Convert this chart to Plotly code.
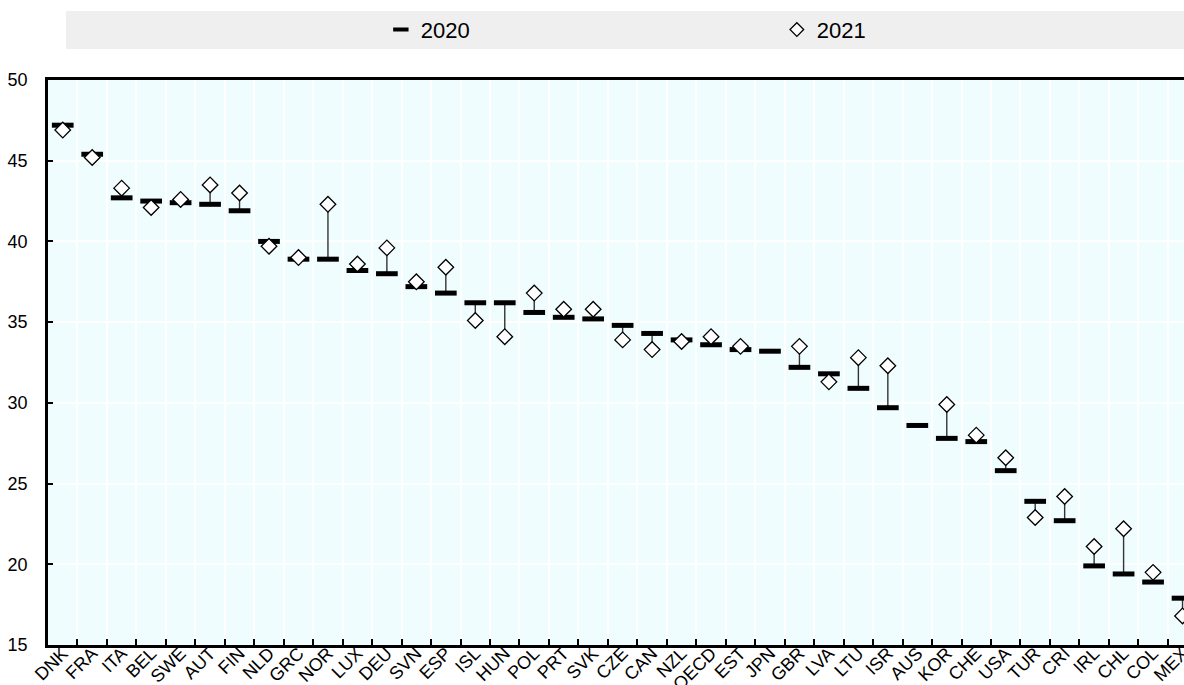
import plotly.graph_objects as go

countries = ["DNK", "FRA", "ITA", "BEL", "SWE", "AUT", "FIN", "NLD", "GRC", "NOR",
             "LUX", "DEU", "SVN", "ESP", "ISL", "HUN", "POL", "PRT", "SVK", "CZE",
             "CAN", "NZL", "OECD", "EST", "JPN", "GBR", "LVA", "LTU", "ISR", "AUS",
             "KOR", "CHE", "USA", "TUR", "CRI", "IRL", "CHL", "COL", "MEX"]

v2020 = [47.2, 45.4, 42.7, 42.5, 42.4, 42.3, 41.9, 40.0, 38.9, 38.9,
         38.2, 38.0, 37.2, 36.8, 36.2, 36.2, 35.6, 35.3, 35.2, 34.8,
         34.3, 33.9, 33.6, 33.3, 33.2, 32.2, 31.8, 30.9, 29.7, 28.6,
         27.8, 27.6, 25.8, 23.9, 22.7, 19.9, 19.4, 18.9, 17.9]

v2021 = [46.9, 45.2, 43.3, 42.1, 42.6, 43.5, 43.0, 39.7, 39.0, 42.3,
         38.6, 39.6, 37.5, 38.4, 35.1, 34.1, 36.8, 35.8, 35.8, 33.9,
         33.3, 33.8, 34.1, 33.5, None, 33.5, 31.3, 32.8, 32.3, None,
         29.9, 28.0, 26.6, 22.9, 24.2, 21.1, 22.2, 19.5, 16.8]

series_names = ["2020", "2021"]
y_ticks = [15, 20, 25, 30, 35, 40, 45, 50]

FONT = "Liberation Sans, Arial, sans-serif"

# connectors between the two years
lx, ly = [], []
for c, a, b in zip(countries, v2020, v2021):
    if a is not None and b is not None:
        lx += [c, c, None]
        ly += [a, b, None]

fig = go.Figure()
fig.add_trace(go.Scatter(x=lx, y=ly, mode="lines", line=dict(color="#333333", width=1.4),
                         showlegend=False, hoverinfo="skip"))
fig.add_trace(go.Scatter(x=countries, y=v2020, mode="markers", name=series_names[0],
                         legendgroup="a", showlegend=False,
                         marker=dict(symbol="line-ew", size=15.5,
                                     line=dict(color="black", width=5))))
fig.add_trace(go.Scatter(x=countries, y=v2021, mode="markers", name=series_names[1],
                         legendgroup="b", showlegend=False,
                         marker=dict(symbol="diamond", size=12, color="white",
                                     line=dict(color="black", width=1.3))))
# legend entries (smaller symbols, as in the reference legend)
fig.add_trace(go.Scatter(x=[None], y=[None], mode="markers", name=series_names[0],
                         legendgroup="a",
                         marker=dict(symbol="line-ew", size=11,
                                     line=dict(color="black", width=4))))
fig.add_trace(go.Scatter(x=[None], y=[None], mode="markers", name=series_names[1],
                         legendgroup="b",
                         marker=dict(symbol="diamond", size=10.5, color="white",
                                     line=dict(color="black", width=1.3))))

fig.update_layout(
    width=1184, height=685,
    margin=dict(l=48, r=0, t=80, b=40, autoexpand=False),
    paper_bgcolor="white",
    plot_bgcolor="#f0fdff",
    font=dict(family=FONT, size=18, color="#000000"),
    legend=dict(orientation="h", x=0.293, xanchor="left", y=1.089, yanchor="middle",
                bgcolor="rgba(0,0,0,0)", font=dict(size=22, family=FONT),
                entrywidth=351, itemclick=False, itemdoubleclick=False),
    shapes=[dict(type="rect", xref="paper", yref="paper",
                 x0=0.0158, x1=1.0, y0=1.0549, y1=1.1221,
                 fillcolor="#efefef", line=dict(width=0), layer="below")],
)
fig.update_xaxes(
    type="category", categoryorder="array", categoryarray=countries,
    range=[-0.5, 38.05], automargin=False,
    tickson="boundaries", ticks="inside", ticklen=6, tickwidth=1.5, tickcolor="black",
    tickangle=-45, tickfont=dict(size=18, family=FONT), ticklabelstandoff=-12,
    showgrid=True, gridcolor="white", gridwidth=1.5,
    showline=True, linecolor="black", linewidth=2.5, mirror=True,
    zeroline=False, fixedrange=True,
)
fig.update_yaxes(
    range=[15, 50], tickvals=y_ticks, automargin=False,
    ticks="inside", ticklen=5, tickwidth=1.5, tickcolor="black",
    tickfont=dict(size=18, family=FONT), ticklabelstandoff=14,
    showgrid=True, gridcolor="white", gridwidth=1.5,
    showline=True, linecolor="black", linewidth=2.5,
    zeroline=False, fixedrange=True,
)

fig.write_html(
    "out.html",
    config={"displayModeBar": False},
    post_script="document.body.style.margin='0';document.body.style.overflow='hidden';",
)
